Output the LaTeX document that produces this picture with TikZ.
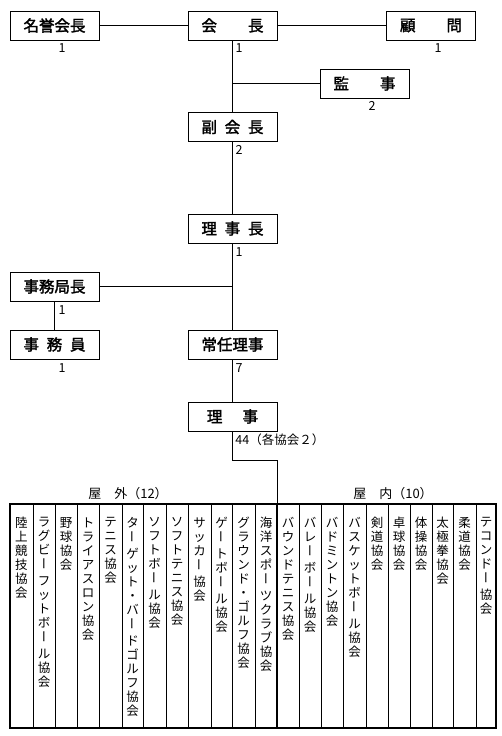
\documentclass[tikz,border=0pt]{standalone}
\usepackage{fontspec}
\setmainfont{Noto Sans CJK JP}[AutoFakeBold=2]
\usepackage{graphicx}
\usetikzlibrary{positioning}

% vertical text: one character per line, long vowel mark turned upright
\newcommand{\tate}[1]{\baselineskip=14pt\lineskiplimit=-20pt\relax\tateloop#1\relax}
\def\tateloop#1{\ifx#1\relax\else\tatechar{#1}\expandafter\tateloop\fi}
\newcommand{\tatechar}[1]{\if ー#1\rotatebox[origin=c]{-90}{\rule{0pt}{.76em}ー}\par\vspace{3pt}\else #1\par\fi}

\begin{document}
\begin{tikzpicture}[x=1pt,y=-1pt, line width=0.9pt,
    post/.style={draw, fill=white, minimum width=89pt, minimum height=29pt, inner sep=0pt, font=\fontsize{15.5}{15.5}\selectfont\bfseries},
    num/.style={inner sep=0pt, font=\fontsize{12.5}{12.5}\selectfont},
    col/.style={anchor=north, text width=20pt, align=center, inner sep=0pt, font=\fontsize{12.5}{14}\selectfont}]
    \useasboundingbox (0,0) rectangle (502,736);

    % officers
    \node[post] (meiyo) at (54.5,25.5) {名誉会長};
    \node[post] (kaicho) at (232.5,25.5) {会\hspace{2em}長};
    \node[post] (komon) at (431,25.5) {顧\hspace{2em}問};
    \node[post] (kanji) at (364.5,83.5) {監\hspace{2em}事};
    \node[post] (fuku) at (232.5,127) {副\enspace 会\enspace 長};
    \node[post] (rijicho) at (232.5,228.5) {理\enspace 事\enspace 長};
    \node[post] (jimukyoku) at (54.5,286.5) {事務局長};
    \node[post] (jimuin) at (54.5,344.5) {事\enspace 務\enspace 員};
    \node[post] (jonin) at (232.5,344.5) {常任理事};
    \node[post] (riji) at (232.5,416.5) {理\hspace{1.3em}事};

    % numbers
    \node[num] (n-meiyo) at (62,48) {1};
    \node[num] (n-kaicho) at (239,48) {1};
    \node[num] (n-komon) at (438,48) {1};
    \node[num] (n-kanji) at (372,106) {2};
    \node[num] (n-fuku) at (239,150) {2};
    \node[num] (n-rijicho) at (239,252) {1};
    \node[num] (n-jimukyoku) at (62,310) {1};
    \node[num] (n-jimuin) at (62,368) {1};
    \node[num] (n-jonin) at (239,368) {7};
    \node[num, anchor=west] (n-riji) at (235,440) {44（各協会２）};

    % lines
    \draw (meiyo) -- (kaicho);
    \draw (kaicho) -- (komon);
    \draw (kaicho) -- (fuku);
    \draw (kanji.west) -- (kanji.west -| kaicho.south);
    \draw (fuku) -- (rijicho);
    \draw (rijicho) -- (jonin);
    \draw (jimukyoku.east) -- (jimukyoku.east -| rijicho.south);
    \draw (jimukyoku) -- (jimuin);
    \draw (jonin) -- (riji);
    \coordinate (bend) at (277,460);
    \coordinate (split) at (277,504);
    \coordinate (splitend) at (277,728);
    \draw (riji.south) |- (bend) -- (split);

    % member associations
    \node[font=\fontsize{13}{13}\selectfont] (outdoor) at (128,494) {屋　外（12）};
    \node[font=\fontsize{13}{13}\selectfont] (indoor) at (393,494) {屋　内（10）};
    \draw[line width=2pt] (10,504) rectangle (496,728);
    \draw[line width=2pt] (split) -- (splitend);
    \foreach \x in {33,55,77,99,122,143,166,188,211,232,255,299,321,343,366,388,410,432,453,476}
        \draw (\x,504) -- (\x,728);

    \node[col] (rikujo) at (21.5,517) {\tate{陸上競技協会}};
    \node[col] (rugby) at (44,517) {\tate{ラグビーフットボール協会}};
    \node[col] (yakyu) at (66,517) {\tate{野球協会}};
    \node[col] (tri) at (88,517) {\tate{トライアスロン協会}};
    \node[col] (tennis) at (110.5,517) {\tate{テニス協会}};
    \node[col] (target) at (132.5,517) {\tate{ターゲット・バードゴルフ協会}};
    \node[col] (softball) at (154.5,517) {\tate{ソフトボール協会}};
    \node[col] (softtennis) at (177,517) {\tate{ソフトテニス協会}};
    \node[col] (soccer) at (199.5,517) {\tate{サッカー協会}};
    \node[col] (gate) at (221.5,517) {\tate{ゲートボール協会}};
    \node[col] (ground) at (243.5,517) {\tate{グラウンド・ゴルフ協会}};
    \node[col] (kaiyo) at (266,517) {\tate{海洋スポーツクラブ協会}};
    \node[col] (bound) at (288,517) {\tate{バウンドテニス協会}};
    \node[col] (volley) at (310,517) {\tate{バレーボール協会}};
    \node[col] (badminton) at (332,517) {\tate{バドミントン協会}};
    \node[col] (basket) at (354.5,517) {\tate{バスケットボール協会}};
    \node[col] (kendo) at (377,517) {\tate{剣道協会}};
    \node[col] (takkyu) at (399,517) {\tate{卓球協会}};
    \node[col] (taiso) at (421,517) {\tate{体操協会}};
    \node[col] (taikyoku) at (442.5,517) {\tate{太極拳協会}};
    \node[col] (judo) at (464.5,517) {\tate{柔道協会}};
    \node[col] (taekwondo) at (486,517) {\tate{テコンドー協会}};
\end{tikzpicture}
\end{document}
